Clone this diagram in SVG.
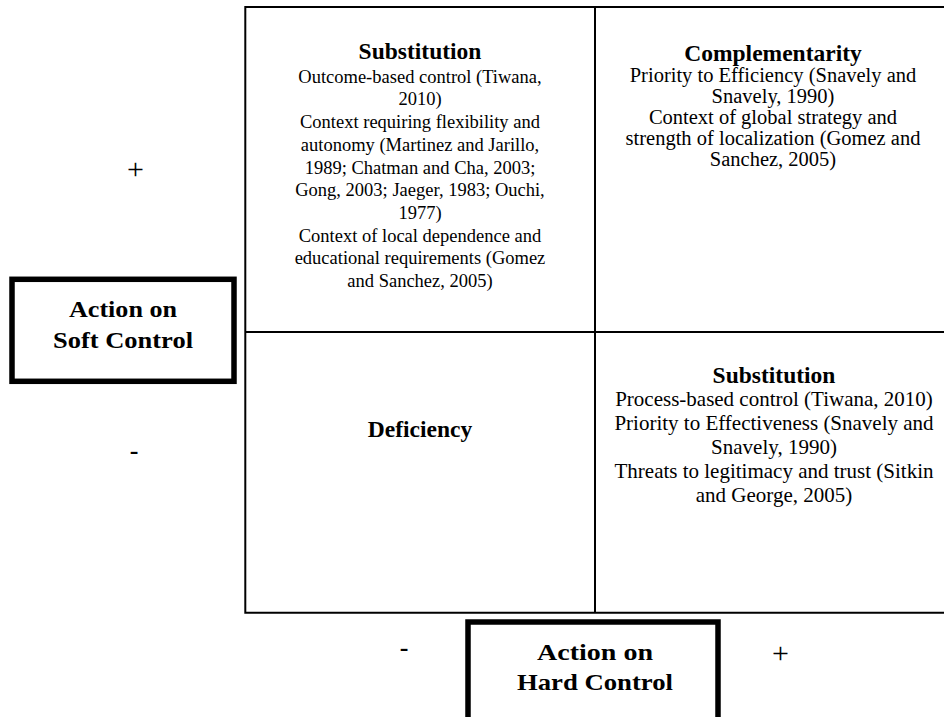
<svg xmlns="http://www.w3.org/2000/svg" width="944" height="717" viewBox="0 0 944 717" font-family="'Liberation Serif', 'DejaVu Serif', 'Times New Roman', serif">
<style>
text{font-family:'Liberation Serif','DejaVu Serif','Times New Roman',serif;fill:#000;text-anchor:middle}
.h{font-weight:bold;font-size:23.5px}
.b1{font-size:18.5px}
.b2{font-size:20.5px}
.b3{font-size:21px}
.lab{font-weight:bold;font-size:23px}
.grid{fill:none;stroke:#000;stroke-width:2}
.box{fill:#fff;stroke:#000;stroke-width:5.5}
.sign{font-size:30px}
.signb{font-size:26px;font-weight:bold}
</style>
<rect width="944" height="717" fill="#fff"/>
<g id="connectors">
<path class="grid" d="M245.3 7 H960 M245.3 6 V613.7 M244.3 612.7 H960 M595 7 V612.7 M245.3 332 H960"/>
</g>
<g id="cell-top-left">
<text class="h" x="420" y="59">Substitution</text>
<text class="b1" x="420" y="82.7">Outcome-based control (Tiwana,</text>
<text class="b1" x="420" y="105.4">2010)</text>
<text class="b1" x="420" y="128.1">Context requiring flexibility and</text>
<text class="b1" x="420" y="150.8">autonomy (Martinez and Jarillo,</text>
<text class="b1" x="420" y="173.5">1989; Chatman and Cha, 2003;</text>
<text class="b1" x="420" y="196.2">Gong, 2003; Jaeger, 1983; Ouchi,</text>
<text class="b1" x="420" y="218.9">1977)</text>
<text class="b1" x="420" y="241.6">Context of local dependence and</text>
<text class="b1" x="420" y="264.3">educational requirements (Gomez</text>
<text class="b1" x="420" y="287">and Sanchez, 2005)</text>
</g>
<g id="cell-top-right">
<text class="h" x="773" y="60.5">Complementarity</text>
<text class="b2" x="773" y="81.5">Priority to Efficiency (Snavely and</text>
<text class="b2" x="773" y="102.5">Snavely, 1990)</text>
<text class="b2" x="773" y="123.5">Context of global strategy and</text>
<text class="b2" x="773" y="144.5">strength of localization (Gomez and</text>
<text class="b2" x="773" y="165.5">Sanchez, 2005)</text>
</g>
<g id="cell-bottom-left">
<text class="h" x="420" y="437">Deficiency</text>
</g>
<g id="cell-bottom-right">
<text class="h" x="774" y="382.5">Substitution</text>
<text class="b3" x="774" y="406">Process-based control (Tiwana, 2010)</text>
<text class="b3" x="774" y="430">Priority to Effectiveness (Snavely and</text>
<text class="b3" x="774" y="454">Snavely, 1990)</text>
<text class="b3" x="774" y="478">Threats to legitimacy and trust (Sitkin</text>
<text class="b3" x="774" y="502">and George, 2005)</text>
</g>
<g id="soft-control">
<rect class="box" x="12" y="279.3" width="222" height="102"/>
<text class="lab" x="123" y="317" textLength="108" lengthAdjust="spacingAndGlyphs">Action on</text>
<text class="lab" x="123" y="348" textLength="140" lengthAdjust="spacingAndGlyphs">Soft Control</text>
</g>
<g id="hard-control">
<rect class="box" x="468" y="622" width="250" height="130"/>
<text class="lab" x="595" y="660" textLength="116" lengthAdjust="spacingAndGlyphs">Action on</text>
<text class="lab" x="595" y="690" textLength="156" lengthAdjust="spacingAndGlyphs">Hard Control</text>
</g>
<g id="signs">
<text class="sign" x="135.5" y="178.5">+</text>
<text class="signb" x="134" y="459">-</text>
<text class="signb" x="404" y="656">-</text>
<text class="sign" x="780.5" y="662.5">+</text>
</g>
</svg>
